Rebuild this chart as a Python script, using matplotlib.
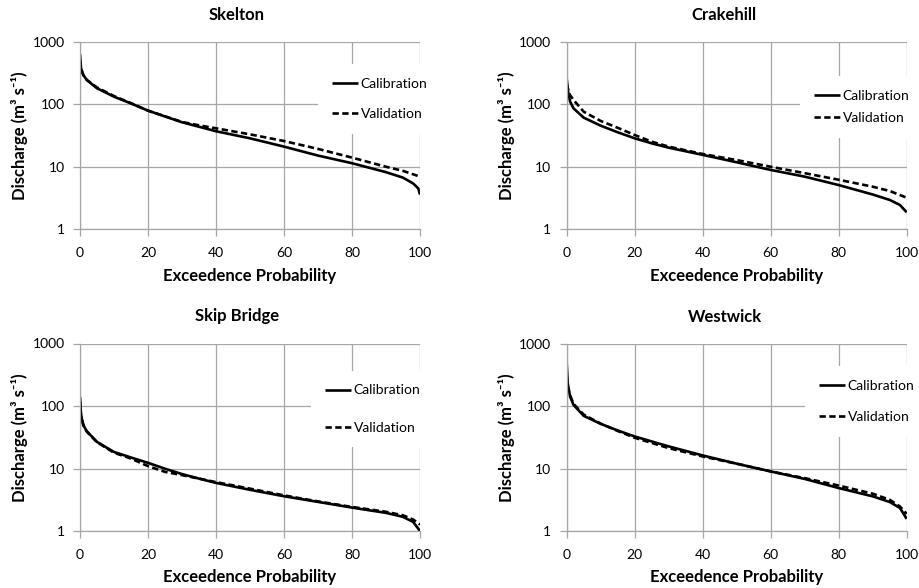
import matplotlib
matplotlib.use("Agg")
import matplotlib.pyplot as plt
from matplotlib.ticker import FixedLocator, FixedFormatter, NullLocator

plt.rcParams['font.family'] = ['Lato', 'DejaVu Sans']

# ---------------- data ----------------
sites = ["Skelton", "Crakehill", "Skip Bridge", "Westwick"]

skelton_cal_x = [0, 0.3, 1, 2, 5, 10, 15, 20, 30, 40, 50, 60, 70, 80, 90, 95, 98, 99.5, 100]
skelton_cal_q = [630, 375, 293, 244, 180, 132, 103, 79, 51.5, 37, 28.5, 21, 15.1, 11.4, 8.2, 6.7, 5.4, 4.5, 3.6]
skelton_val_x = [0, 0.3, 1, 2, 5, 10, 15, 20, 30, 35, 40, 50, 60, 70, 80, 90, 95, 100]
skelton_val_q = [500, 360, 290, 245, 185, 135, 104, 79, 52, 46, 41.2, 33, 25.8, 19.3, 14, 10, 8.6, 6.95]

crakehill_cal_x = [0, 0.5, 1, 2, 5, 10, 15, 20, 25, 30, 40, 50, 60, 70, 80, 90, 95, 98, 100]
crakehill_cal_q = [253, 149, 110, 86, 61, 45.4, 35.6, 28.5, 23.7, 20.2, 15.5, 11.8, 8.9, 6.95, 5.1, 3.6, 2.95, 2.45, 1.87]
crakehill_val_x = [0, 0.5, 1, 2, 5, 10, 15, 20, 25, 30, 40, 50, 60, 70, 80, 90, 95, 100]
crakehill_val_q = [210, 165, 140, 117, 76, 54, 42, 32.2, 25.2, 21, 16, 12.8, 10, 7.9, 6.2, 4.8, 4.1, 3.2]

skip_cal_x = [0, 0.3, 1, 2, 5, 10, 15, 20, 25, 30, 35, 40, 50, 60, 70, 80, 90, 95, 98, 100]
skip_cal_q = [141, 72, 49.5, 39.7, 26.8, 18.5, 15.1, 12.4, 10, 8.2, 6.95, 5.93, 4.6, 3.63, 2.95, 2.39, 1.97, 1.7, 1.41, 1.01]
skip_val_x = [0, 0.3, 1, 2, 5, 10, 15, 20, 25, 30, 35, 40, 50, 60, 70, 80, 90, 95, 98, 100]
skip_val_q = [120, 70, 49, 39, 26.5, 18, 14.5, 11, 8.9, 7.9, 6.95, 6.1, 4.8, 3.75, 3.0, 2.45, 2.05, 1.8, 1.54, 1.28]

westwick_cal_x = [0, 0.3, 1, 2, 5, 10, 15, 20, 30, 40, 50, 60, 70, 80, 90, 95, 98, 100]
westwick_cal_q = [491, 235, 144, 106, 70.7, 52.6, 41.2, 33, 22.9, 16.4, 12.1, 9.1, 6.9, 4.93, 3.63, 2.95, 2.37, 1.58]
westwick_val_x = [0, 0.3, 1, 2, 5, 10, 15, 20, 30, 40, 50, 60, 70, 80, 90, 95, 98, 100]
westwick_val_q = [300, 200, 150, 110, 74, 53, 40.5, 31.5, 21.5, 15.8, 12.1, 9.1, 7.1, 5.4, 4.0, 3.2, 2.5, 1.9]

x_ticks = [0, 20, 40, 60, 80, 100]
y_ticks = [1, 10, 100, 1000]
y_tick_labels = ["1", "10", "100", "1000"]
series_labels = ["Calibration", "Validation"]
x_label = "Exceedence Probability"
y_label = "Discharge (m³ s⁻¹)"

series = {
    "Skelton": (skelton_cal_x, skelton_cal_q, skelton_val_x, skelton_val_q),
    "Crakehill": (crakehill_cal_x, crakehill_cal_q, crakehill_val_x, crakehill_val_q),
    "Skip Bridge": (skip_cal_x, skip_cal_q, skip_val_x, skip_val_q),
    "Westwick": (westwick_cal_x, westwick_cal_q, westwick_val_x, westwick_val_q),
}

# ---------------- layout (pixels) ----------------
W, H = 920, 588
fig = plt.figure(figsize=(W / 100, H / 100), dpi=100)
fig.patch.set_facecolor("white")

def fx(px):
    return px / W

def fy(py):
    return 1 - py / H

boxes = {
    "Skelton": (80, 420, 41.7, 229.3),
    "Crakehill": (566.7, 906.7, 41.7, 229.3),
    "Skip Bridge": (80, 420, 343.5, 531.3),
    "Westwick": (566.7, 906.7, 344, 531.3),
}
title_pos = {
    "Skelton": (237, 15),
    "Crakehill": (724, 15),
    "Skip Bridge": (237, 316),
    "Westwick": (725, 317),
}
xlabel_pos = {
    "Skelton": (250, 276),
    "Crakehill": (737, 276),
    "Skip Bridge": (250, 577),
    "Westwick": (737, 577),
}
ylabel_pos = {
    "Skelton": (20, 136),
    "Crakehill": (507, 136),
    "Skip Bridge": (20, 438),
    "Westwick": (507, 438),
}
legend_pos = {
    "Skelton": (332, 99, 1.25),
    "Crakehill": (814, 107, 0.75),
    "Skip Bridge": (325, 409, 1.8),
    "Westwick": (819, 401.5, 1.35),
}

GRID = "#a6a6a6"
FS = 10
BFS = 12
LW = 1.9

for site in sites:
    l, r, t, b = boxes[site]
    ax = fig.add_axes([fx(l), fy(b), (r - l) / W, (b - t) / H])
    cx, cq, vx, vq = series[site]
    ax.plot(cx, cq, color="black", lw=LW, solid_capstyle="butt", label=series_labels[0])
    ax.plot(vx, vq, color="black", lw=LW, linestyle=(0, (2.4, 1.3)), label=series_labels[1])
    ax.set_yscale("log")
    ax.set_xlim(0, 100)
    ax.set_ylim(1, 1000)
    ax.xaxis.set_major_locator(FixedLocator(x_ticks))
    ax.yaxis.set_major_locator(FixedLocator(y_ticks))
    ax.yaxis.set_major_formatter(FixedFormatter(y_tick_labels))
    ax.yaxis.set_minor_locator(NullLocator())
    ax.grid(True, which="major", color=GRID, lw=0.9)
    ax.set_axisbelow(True)
    for s in ["top", "right"]:
        ax.spines[s].set_visible(False)
    for s in ["left", "bottom"]:
        ax.spines[s].set_color(GRID)
        ax.spines[s].set_linewidth(0.9)
    ax.tick_params(axis="both", colors=GRID, labelcolor="black", labelsize=FS,
                   length=5, width=0.9, direction="out")
    ax.tick_params(axis="y", pad=6)
    ax.tick_params(axis="x", pad=8)
    for lab in ax.get_xticklabels() + ax.get_yticklabels():
        lab.set_clip_on(False)

    hx, hy, lsp = legend_pos[site]
    pad = 1.0
    fs_px = FS * 100 / 72
    ax.legend(loc="center left",
              bbox_to_anchor=(fx(hx - pad * fs_px), fy(hy)),
              bbox_transform=fig.transFigure,
              frameon=True, fancybox=False, framealpha=1,
              facecolor="white", edgecolor="none",
              borderpad=pad, borderaxespad=0, handlelength=1.9,
              handletextpad=0.15, labelspacing=lsp, fontsize=FS)

    tx, ty = title_pos[site]
    fig.text(fx(tx), fy(ty), site, ha="center", va="center",
             fontsize=BFS, fontweight="bold")
    xx, xy = xlabel_pos[site]
    fig.text(fx(xx), fy(xy), x_label, ha="center", va="center",
             fontsize=BFS, fontweight="bold")
    yx, yy = ylabel_pos[site]
    fig.text(fx(yx), fy(yy), y_label, ha="center", va="center",
             rotation=90, fontsize=BFS, fontweight="bold")

fig.savefig("out.png", dpi=100)
